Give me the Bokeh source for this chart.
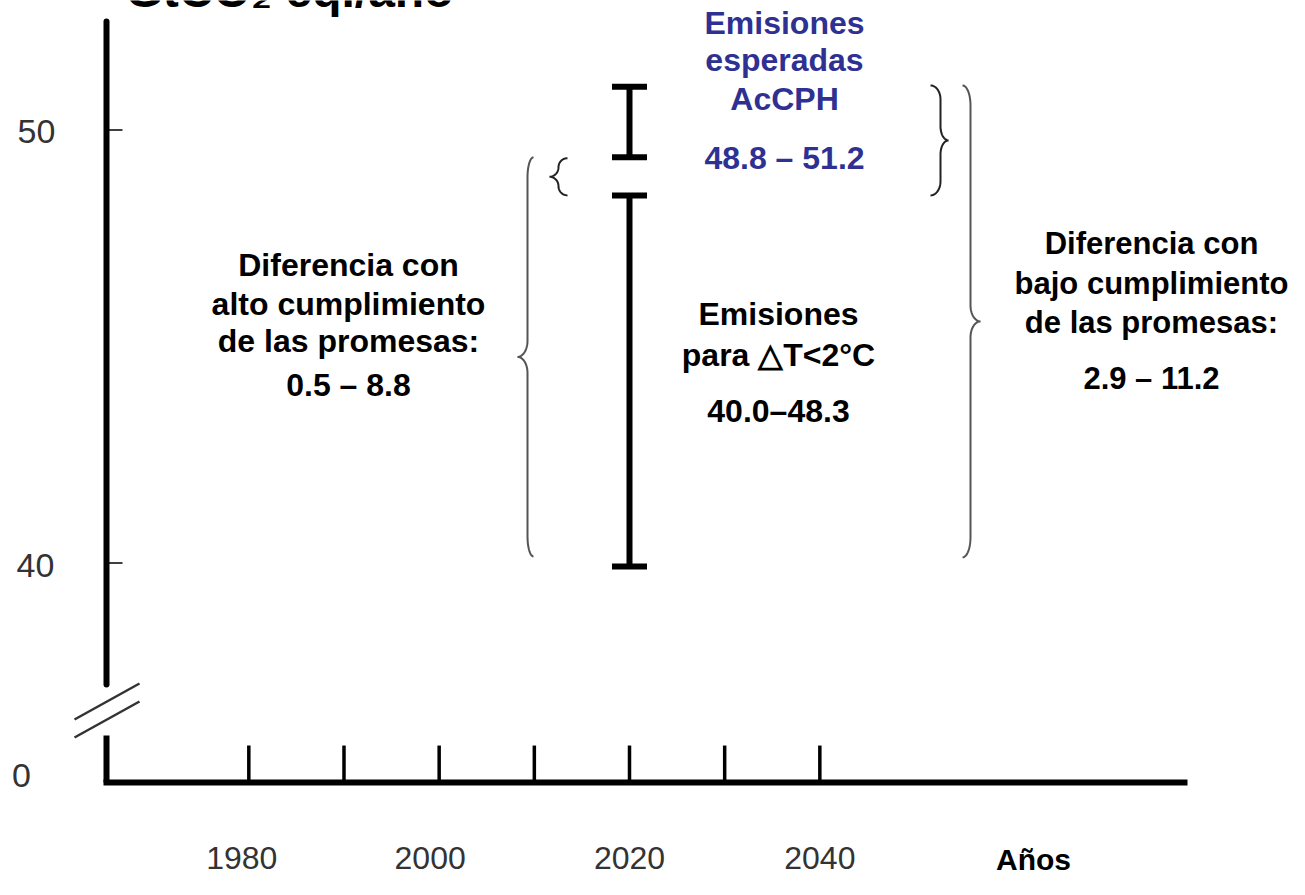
import numpy as np
from bokeh.plotting import figure
from bokeh.models import Range1d
from bokeh.core.properties import value
from bokeh.embed import file_html
from bokeh.resources import INLINE

# ---------------- data ----------------
tick_years = [1980, 1990, 2000, 2010, 2020, 2030, 2040]
label_years = [1980, 2000, 2020, 2040]
label_texts = ["1980", "2000", "2020", "2040"]

zero_pos = 34.93                      # display position of 0 (broken axis)
y_label_values = [50, 40, zero_pos]
y_label_texts = ["50", "40", "0"]
y_minor_ticks = [50, 40]

bar_year = 2020
expected_range = [49.37, 51.0]        # Emisiones esperadas AcCPH (as drawn)
target_range = [39.92, 48.49]         # Emisiones para dT<2°C (as drawn)

brace_small_left = [48.49, 49.35]
brace_big_left = [40.15, 49.37]
brace_small_right = [48.49, 51.03]
brace_big_right = [40.13, 51.03]

title_text = "GtCO\u2082 eq./año"
blue_lines = ["Emisiones", "esperadas", "AcCPH", "48.8 \u2013 51.2"]
mid_lines = ["Emisiones", "para \u25b3T<2°C", "40.0\u201348.3"]
left_lines = ["Diferencia con", "alto cumplimiento", "de las promesas:", "0.5 \u2013 8.8"]
right_lines = ["Diferencia con", "bajo cumplimiento", "de las promesas:", "2.9 \u2013 11.2"]
x_title = "Años"

# ---------------- scales ----------------
W, H = 1289, 879
PXY = 9.517          # px per year
PXU = 43.3           # px per unit
X0 = 2020 - 629 / PXY
Y_TOP = 50 + 129.5 / PXU


def xd(px):
    return X0 + px / PXY


def yd(py):
    return Y_TOP - py / PXU


def xp(v):
    return (v - X0) * PXY


def yp(v):
    return (Y_TOP - v) * PXU


p = figure(width=W, height=H, x_range=Range1d(X0, X0 + W / PXY),
           y_range=Range1d(Y_TOP - H / PXU, Y_TOP),
           x_axis_type=None, y_axis_type=None,
           toolbar_location=None, output_backend="svg", min_border=0)
p.outline_line_color = None
p.grid.visible = False
p.background_fill_color = "white"

FONT = value("Liberation Sans")
AX = xd(106)              # y-axis x position (year units)
AX_END = xd(1187)

# axes lines
p.segment(x0=[AX], y0=[yd(21)], x1=[AX], y1=[yd(684)], line_width=6,
          line_color="black", line_cap="round")
p.segment(x0=[AX], y0=[yd(735)], x1=[AX], y1=[zero_pos], line_width=6,
          line_color="black", line_cap="butt")
p.segment(x0=[xd(103)], y0=[zero_pos], x1=[AX_END], y1=[zero_pos],
          line_width=6, line_color="black")

# break marks
p.segment(x0=[xd(74), xd(74)], y0=[yd(719), yd(737)],
          x1=[xd(139), xd(139)], y1=[yd(683), yd(701)],
          line_width=2.5, line_color="#333333")

# x ticks (inside, upward)
p.segment(x0=tick_years, y0=[zero_pos] * len(tick_years),
          x1=tick_years, y1=[zero_pos + 37 / PXU] * len(tick_years),
          line_width=3.5, line_color="black")

# small y ticks
p.segment(x0=[AX] * 2, y0=y_minor_ticks, x1=[AX + 16 / PXY] * 2, y1=y_minor_ticks,
          line_width=1.5, line_color="black")

# tick labels
p.text(x=label_years, y=[yd(857)] * len(label_years), text=label_texts,
       text_font=FONT, text_font_size="32px", text_color="#333333",
       text_align="center", text_baseline="middle", x_offset=[-7, -9, 0, 0])
p.text(x=[AX] * 3, y=y_label_values, text=y_label_texts, x_offset=[-70, -71, -85],
       y_offset=[1.5, 2.5, -7],
       text_font=FONT, text_font_size="34px", text_color="#333333",
       text_align="center", text_baseline="middle")
p.text(x=[xd(1033)], y=[yd(859)], text=[x_title], text_font=FONT,
       text_font_style="bold", text_font_size="30px", text_color="black",
       text_align="center", text_baseline="middle")

# error bars
for lo, hi in (expected_range, target_range):
    p.segment(x0=[bar_year], y0=[lo], x1=[bar_year], y1=[hi], line_width=6,
              line_color="black")
    half = 17.5 / PXY
    p.segment(x0=[bar_year - half] * 2, y0=[lo, hi], x1=[bar_year + half] * 2,
              y1=[lo, hi], line_width=6, line_color="black")


def brace(xv_px, lo, hi, rx_h, ry_h, rx_t, ry_t, s):
    """brace path in px: s=+1 '}' , s=-1 '{'"""
    y0, y1 = yp(hi), yp(lo)
    ym = (y0 + y1) / 2
    xs, ys = [], []

    def arc(cx, cy, rx, ry, a0, a1):
        t = np.linspace(a0, a1, 14)
        xs.extend(list(cx + rx * np.cos(t)))
        ys.extend(list(cy - ry * np.sin(t)))

    arc(-rx_h, y0 + ry_h, rx_h, ry_h, np.pi / 2, 0)
    arc(rx_t, ym - ry_t, rx_t, ry_t, np.pi, 1.5 * np.pi)
    arc(rx_t, ym + ry_t, rx_t, ry_t, 0.5 * np.pi, np.pi)
    arc(-rx_h, y1 - ry_h, rx_h, ry_h, 0, -np.pi / 2)
    X = [xd(xv_px + s * v) for v in xs]
    Y = [yd(v) for v in ys]
    return X, Y


for xv, span, rh, ryh, rt, ryt, s, col in [
        (527, brace_big_left, 6, 20, 10, 16, -1, "#555555"),
        (558, brace_small_left, 9, 9, 9, 9.5, -1, "#222222"),
        (940, brace_small_right, 10, 14, 8, 14, 1, "#222222"),
        (970, brace_big_right, 8, 20, 10, 16, 1, "#555555")]:
    bx, by = brace(xv, span[0], span[1], rh, ryh, rt, ryt, s)
    p.line(bx, by, line_width=2, line_color=col)

# text blocks
TXT = dict(text_font=FONT, text_font_style="bold",
           text_align="center", text_baseline="middle")


def block(lines, cx, cys, color, size):
    p.text(x=[xd(cx)] * len(lines), y=[yd(c) for c in cys], text=lines,
           text_color=color, text_font_size=size, **TXT)


block(blue_lines, 784, [22, 59, 98, 157], "#2e3192", "32px")
block(mid_lines, 778, [313, 354, 410], "black", "32px")
block(left_lines, 348, [264, 303, 340, 384], "black", "32px")
block(right_lines, 1151, [243, 283, 322, 378], "black", "31px")

# axis title, cut off at the top edge as in the reference
p.text(x=[xd(125)], y=[yd(2)], text=[title_text], text_font=FONT,
       text_font_style="bold", text_font_size="48px", text_color="black",
       text_align="left", text_baseline="middle", y_offset=-12)

open("out.html", "w").write(file_html(p, INLINE))
